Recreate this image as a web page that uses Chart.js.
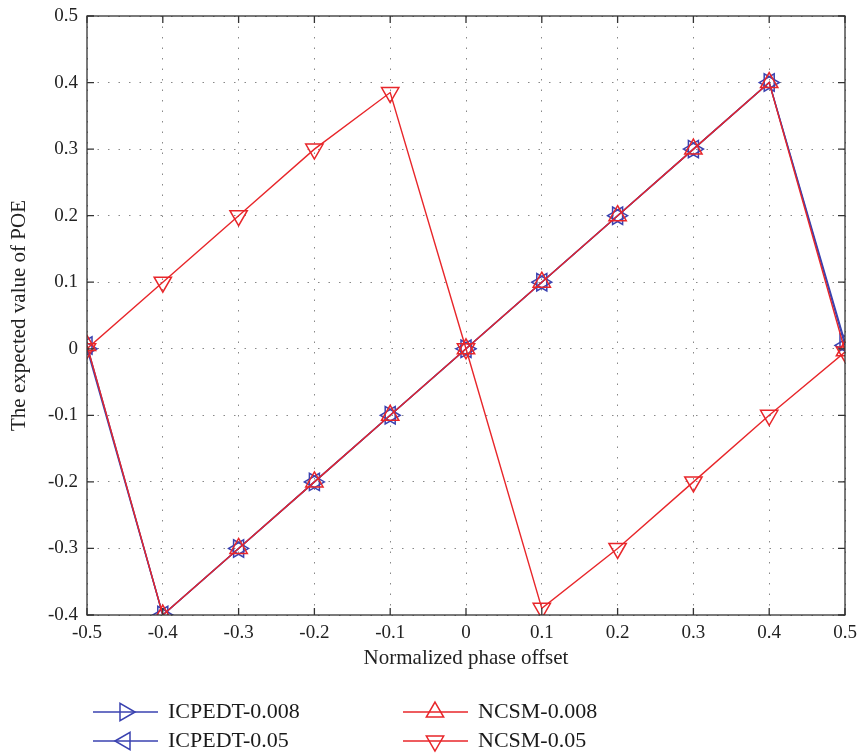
<!DOCTYPE html>
<html>
<head>
<meta charset="utf-8">
<script src="https://cdn.jsdelivr.net/npm/chart.js@4/dist/chart.umd.min.js"></script>
<style>
  html, body { margin: 0; padding: 0; background: #fff; }
  #wrap { width: 863px; height: 754px; }
</style>
</head>
<body>
<div id="wrap"><canvas id="poeChart" width="863" height="754"></canvas></div>
<script>
// phase offsets along x axis
var offsets = [-0.5, -0.4, -0.3, -0.2, -0.1, 0, 0.1, 0.2, 0.3, 0.4, 0.5];

// expected POE values
var icpedt008 = [0, -0.4, -0.3, -0.2, -0.1, 0, 0.1, 0.2, 0.3, 0.4, 0.01];
var icpedt05  = [0.005, -0.4, -0.3, -0.2, -0.1, 0, 0.1, 0.2, 0.3, 0.4, 0.005];
var ncsm008   = [0.005, -0.4, -0.3, -0.2, -0.1, 0, 0.1, 0.2, 0.3, 0.4, -0.003];
var ncsm05    = [0, 0.1, 0.2, 0.3, 0.385, 0, -0.39, -0.3, -0.2, -0.1, -0.005];

var xTicks = [-0.5, -0.4, -0.3, -0.2, -0.1, 0, 0.1, 0.2, 0.3, 0.4, 0.5];
var yTicks = [-0.4, -0.3, -0.2, -0.1, 0, 0.1, 0.2, 0.3, 0.4, 0.5];

var BLUE = "#3a42b0";
var RED = "#e8262a";
var SERIF = "'Liberation Serif', 'DejaVu Serif', serif";
var MARK = 10;

function toPoints(vals) {
	var pts = [];
	for (var i = 0; i < offsets.length; i++) {
		pts.push({x: offsets[i], y: vals[i]});
	}
	return pts;
}

function fmt(v) {
	return String(Number(v.toFixed(1)));
}

function series(label, vals, color, rot, order) {
	return {
		label: label,
		data: toPoints(vals),
		borderColor: color,
		backgroundColor: "rgba(0,0,0,0)",
		borderWidth: 1.4,
		showLine: true,
		tension: 0,
		pointStyle: "triangle",
		pointRotation: rot,
		pointRadius: MARK,
		pointBorderWidth: 1.5,
		pointBorderColor: color,
		pointBackgroundColor: "rgba(0,0,0,0)",
		order: order
	};
}

// box + inward tick marks like the original plot
var boxPlugin = {
	id: "box",
	afterDatasetsDraw: function (chart) {
		var ctx = chart.ctx, a = chart.chartArea;
		var xs = chart.scales.x, ys = chart.scales.y;
		ctx.save();
		ctx.strokeStyle = "#333";
		ctx.lineWidth = 1.3;
		ctx.strokeRect(a.left, a.top, a.right - a.left, a.bottom - a.top);
		ctx.beginPath();
		var t = 7;
		xTicks.forEach(function (v) {
			var px = xs.getPixelForValue(v);
			ctx.moveTo(px, a.bottom); ctx.lineTo(px, a.bottom - t);
			ctx.moveTo(px, a.top); ctx.lineTo(px, a.top + t);
		});
		yTicks.forEach(function (v) {
			var py = ys.getPixelForValue(v);
			ctx.moveTo(a.left, py); ctx.lineTo(a.left + t, py);
			ctx.moveTo(a.right, py); ctx.lineTo(a.right - t, py);
		});
		ctx.stroke();
		ctx.restore();
	}
};

// legend below the plot: line with marker, two columns
var legendPlugin = {
	id: "bottomLegend",
	afterDraw: function (chart) {
		var ctx = chart.ctx;
		var spots = [[93, 712], [93, 741], [403, 712], [403, 741]];
		ctx.save();
		chart.data.datasets.forEach(function (ds, i) {
			var x = spots[i][0], y = spots[i][1];
			ctx.strokeStyle = ds.borderColor;
			ctx.lineWidth = 1.4;
			ctx.beginPath();
			ctx.moveTo(x, y); ctx.lineTo(x + 65, y);
			ctx.stroke();
			ctx.fillStyle = "rgba(0,0,0,0)";
			ctx.lineWidth = 1.5;
			Chart.helpers.drawPoint(ctx, {
				pointStyle: "triangle",
				rotation: ds.pointRotation,
				radius: MARK,
				borderWidth: 1.5
			}, x + 32, y);
			ctx.fillStyle = "#1a1a1a";
			ctx.font = "22px " + SERIF;
			ctx.textBaseline = "middle";
			ctx.textAlign = "left";
			ctx.fillText(ds.label, x + 75, y);
		});
		ctx.restore();
	}
};

var ctx = document.getElementById("poeChart");

var chart = new Chart(ctx, {
	type: "scatter",
	data: {
		datasets: [
			series("ICPEDT-0.008", icpedt008, BLUE, 90, 4),
			series("ICPEDT-0.05", icpedt05, BLUE, -90, 3),
			series("NCSM-0.008", ncsm008, RED, 0, 2),
			series("NCSM-0.05", ncsm05, RED, 180, 1)
		]
	},
	options: {
		responsive: false,
		animation: false,
		layout: { padding: { left: 0, top: 16, right: 18, bottom: 79 } },
		plugins: {
			legend: { display: false },
			tooltip: { enabled: false }
		},
		scales: {
			x: {
				type: "linear",
				min: -0.5,
				max: 0.5,
				afterFit: function (s) { s.height = 60; s.paddingLeft = 0; s.paddingRight = 0; },
				afterBuildTicks: function (s) { s.ticks = xTicks.map(function (v) { return {value: v}; }); },
				ticks: {
					callback: function (v) { return fmt(v); },
					font: { family: SERIF, size: 19 },
					color: "#222",
					padding: 7,
					maxRotation: 0
				},
				grid: { color: "#888", drawTicks: false },
				border: { display: false, dash: [1.5, 9] },
				title: {
					display: true,
					text: "Normalized phase offset",
					font: { family: SERIF, size: 21 },
					color: "#222",
					padding: { top: 0 }
				}
			},
			y: {
				type: "linear",
				min: -0.4,
				max: 0.5,
				afterFit: function (s) { s.width = 87; s.paddingTop = 0; s.paddingBottom = 0; },
				afterBuildTicks: function (s) { s.ticks = yTicks.map(function (v) { return {value: v}; }); },
				ticks: {
					callback: function (v) { return fmt(v); },
					font: { family: SERIF, size: 19 },
					color: "#222",
					padding: 9
				},
				grid: { color: "#888", drawTicks: false },
				border: { display: false, dash: [1.5, 9] },
				title: {
					display: true,
					text: "The expected value of POE",
					font: { family: SERIF, size: 21 },
					color: "#222",
					padding: { top: 7, bottom: 0 }
				}
			}
		}
	},
	plugins: [boxPlugin, legendPlugin]
});
</script>
</body>
</html>
